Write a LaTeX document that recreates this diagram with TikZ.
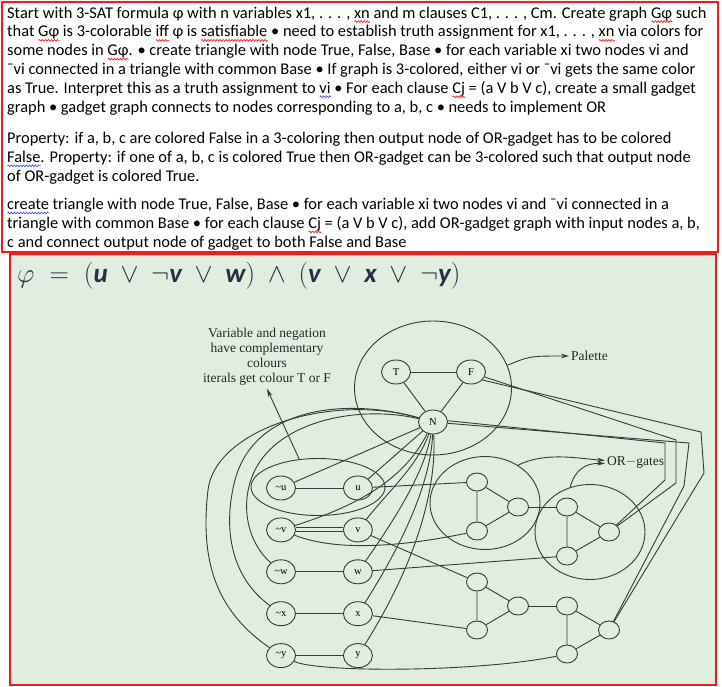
\RequirePackage{fix-cm}
\documentclass[tikz,border=0pt]{standalone}
\usepackage{fontspec}
\setmainfont{Carlito}
\newfontfamily\figfont{Liberation Serif}
\usepackage{amsmath}
\usetikzlibrary{positioning,shapes.geometric,arrows.meta,decorations.pathmorphing}

\definecolor{panelgreen}{RGB}{223,238,223}
\definecolor{framered}{RGB}{245,25,25}
\definecolor{inkblue}{RGB}{38,48,72}
\definecolor{spellblue}{RGB}{50,70,230}

\newsavebox{\squigbox}
\newcommand{\squig}[2]{\sbox{\squigbox}{#2}\rlap{\raisebox{-3.5pt}[0pt][0pt]{\tikz[x=1pt, y=1pt, baseline=0pt] \draw[#1, line width=0.6pt, decorate, decoration={snake, amplitude=0.9pt, segment length=3pt}] (0,0) -- (\wd\squigbox,0);}}\usebox{\squigbox}}
\newcommand{\redsquig}[1]{\squig{red}{#1}}
\newcommand{\bluesquig}[1]{\squig{spellblue}{#1}}
\newcommand{\lvar}[1]{\text{\bfseries\itshape #1}}

\begin{document}
\begin{tikzpicture}[
    x=1pt, y=-1pt,
    textblock/.style={anchor=north west, inner sep=0pt, align=left, font=\fontsize{16.4}{18.8}\selectfont},
    litnode/.style={ellipse, draw=black!78, line width=0.9pt, minimum width=29pt, minimum height=24pt, inner sep=0pt, font=\figfont\fontsize{10.5}{10.5}\selectfont},
    gatenode/.style={ellipse, draw=black!78, line width=0.9pt, minimum width=21pt, minimum height=18pt, inner sep=0pt},
    ringshape/.style={ellipse, draw=black!78, line width=0.9pt, inner sep=0pt},
    notetext/.style={inner sep=0pt, align=center, text=black!85, font=\figfont\fontsize{13.5}{15}\selectfont},
    wire/.style={draw=black!78, line width=0.9pt},
    arrow/.style={wire, -{Stealth[length=8pt, width=4.5pt]}}
]

% Frames
\useasboundingbox (0,0) rectangle (722,687);
\draw [framered, line width=1.5pt] (2,2) rectangle (718,252);
\draw [framered, line width=1.5pt, fill=panelgreen] (10,254) rectangle (716,685);

% Text
\node (intro) [textblock] at (7,6.5) {Start with 3-SAT formula φ with n variables x1, . . . , \redsquig{xn} and m clauses C1, . . . , Cm. Create graph \redsquig{Gφ} such\\
that \redsquig{Gφ} is 3-colorable \redsquig{iff} φ is \redsquig{satisfiable} • need to establish truth assignment for x1, . . . , \redsquig{xn} via colors for\\
some nodes in \redsquig{Gφ}. • create triangle with node True, False, Base • for each variable xi two nodes vi and\\
¯vi connected in a triangle with common Base • If graph is 3-colored, either vi or ¯vi gets the same color\\
as True. Interpret this as a truth assignment to \bluesquig{vi} • For each clause \redsquig{Cj} = (a V b V c), create a small gadget\\
graph • gadget graph connects to nodes corresponding to a, b, c • needs to implement OR};
\node (prop) [textblock] at (7,132) {Property: if a, b, c are colored False in a 3-coloring then output node of OR-gadget has to be colored\\
\bluesquig{False}. Property: if one of a, b, c is colored True then OR-gadget can be 3-colored such that output node\\
of OR-gadget is colored True.};
\node (recipe) [textblock] at (7,198) {\bluesquig{create} triangle with node True, False, Base • for each variable xi two nodes vi and ¯vi connected in a\\
triangle with common Base • for each clause \redsquig{Cj} = (a V b V c), add OR-gadget graph with input nodes a, b,\\
c and connect output node of gadget to both False and Base};

% Formula and notes
\node (formula) [anchor=west, inner sep=0pt, text=inkblue, font=\fontsize{27}{30}\selectfont] at (17,276) {\medmuskip=8.5mu \thickmuskip=10mu $\varphi = (\lvar{u} \vee \neg \lvar{v} \vee \lvar{w}) \wedge (\lvar{v} \vee \lvar{x} \vee \neg \lvar{y})$};
\node (hint) [notetext] at (267,357) {Variable and negation\\have complementary\\colours\\iterals get colour T or F};
\node (palette) [notetext, anchor=west, inner sep=2pt] at (569,356) {Palette};
\node (orlabel) [notetext, anchor=west, inner sep=2pt] at (605,462) {OR$-$gates};

% Palette
\node (pal) [ringshape, minimum width=157pt, minimum height=134pt] at (433,388) {};
\node (T) [litnode] at (396,372) {T};
\node (F) [litnode] at (471,372) {F};
\node (N) [litnode] at (433,422) {N};

% Literals
\node (nu) [litnode] at (281,488) {\textasciitilde u};
\node (pu) [litnode, right=47pt of nu] {u};
\node (nv) [litnode, below=17pt of nu] {\textasciitilde v};
\node (pv) [litnode, right=47pt of nv] {v};
\node (nw) [litnode, below=17pt of nv] {\textasciitilde w};
\node (pw) [litnode, right=47pt of nw] {w};
\node (nx) [litnode, below=17pt of nw] {\textasciitilde x};
\node (px) [litnode, right=47pt of nx] {x};
\node (ny) [litnode, below=17pt of nx] {\textasciitilde y};
\node (py) [litnode, right=47pt of ny] {y};
\node (lit) [ringshape, minimum width=134pt, minimum height=57pt] at (318,487) {};

% OR-gates
\node (ring1) [ringshape, minimum width=110pt, minimum height=93pt] at (485,503) {};
\node (ga1) [gatenode] at (477,482) {};
\node (gb1) [gatenode] at (477,531) {};
\node (gc1) [gatenode] at (518,507) {};
\node (ring2) [ringshape, minimum width=110pt, minimum height=95pt] at (590,532) {};
\node (ga2) [gatenode] at (567,507) {};
\node (gb2) [gatenode] at (567,556) {};
\node (gc2) [gatenode] at (609,532) {};
\node (ga3) [gatenode] at (477,582) {};
\node (gb3) [gatenode] at (477,630) {};
\node (gc3) [gatenode] at (518,606) {};
\node (ga4) [gatenode] at (567,606) {};
\node (gb4) [gatenode] at (567,654) {};
\node (gc4) [gatenode] at (609,630) {};

% Triangles
\draw [wire] (T) -- (F);
\draw [wire] (T) -- (N);
\draw [wire] (F) -- (N);
\draw [wire] (nu) -- (pu);
\draw [wire] ([yshift=2pt]nv.east) -- ([yshift=2pt]pv.west);
\draw [wire] ([yshift=-1.5pt]nv.east) -- ([yshift=-1.5pt]pv.west);
\draw [wire] (nw) -- (pw);
\draw [wire] (nx) -- (px);
\draw [wire] (ny) -- (py);
\draw [wire] (ga1) -- (gb1) -- (gc1) -- (ga1);
\draw [wire] (ga2) -- (gb2) -- (gc2) -- (ga2);
\draw [wire] (ga3) -- (gb3) -- (gc3) -- (ga3);
\draw [wire] (ga4) -- (gb4) -- (gc4) -- (ga4);
\draw [wire] (gc1) -- (ga2);
\draw [wire] (gc3) -- (ga4);

% Literals to Base
\draw [wire] (nu) -- (N);
\draw [wire] (pu) -- (N);
\draw [wire] (nv) .. controls (360,505) and (405,478) .. (N);
\draw [wire] (pv) .. controls (388,492) and (418,465) .. (N);
\draw [wire] (pw) .. controls (398,515) and (425,470) .. (N);
\draw [wire] (px) .. controls (405,540) and (431,480) .. (N);
\draw [wire] (py) .. controls (415,565) and (437,490) .. (N);
\draw [wire] (nw) .. controls (245,540) and (240,500) .. (255,470) .. controls (280,420) and (360,405) .. (N);
\draw [wire] (nx) .. controls (232,578) and (222,530) .. (235,480) .. controls (255,405) and (350,398) .. (N);
\draw [wire] (ny) .. controls (215,610) and (200,560) .. (208,490) .. controls (215,430) and (330,392) .. (N);

% Literals to gates
\draw [wire] (pu) -- (ga1);
\draw [wire] (nv) .. controls (340,553) and (410,545) .. (gb1);
\draw [wire] (pw) -- (gb2);
\draw [wire] (pv) -- (ga3);
\draw [wire] (px) -- (gb3);
\draw [wire] (ny) .. controls (320,673) and (480,672) .. (gb4);

% Outputs to False and Base
\draw [wire] (N.5) -- (665,443) -- (665,480) -- (gc2);
\draw [wire] (F.-20) -- (676,440) -- (676,483) -- (gc2);
\draw [wire] (N.-5) -- (689,443) -- (684,486) -- (gc4);
\draw [wire] (F.-35) -- (701,432) -- (704,473) -- (gc4);

% Arrows
\draw [arrow] (pal.17) .. controls (530,356) .. (palette.west);
\draw [arrow] (lit.124) -- ([yshift=-3pt]hint.south);
\draw [arrow] (ring1.49) .. controls (545,452) and (575,458) .. ([yshift=1.5pt]orlabel.west);
\draw [arrow] (ring2.114) .. controls (575,470) and (585,463) .. ([yshift=-1.5pt]orlabel.west);

\end{tikzpicture}
\end{document}
